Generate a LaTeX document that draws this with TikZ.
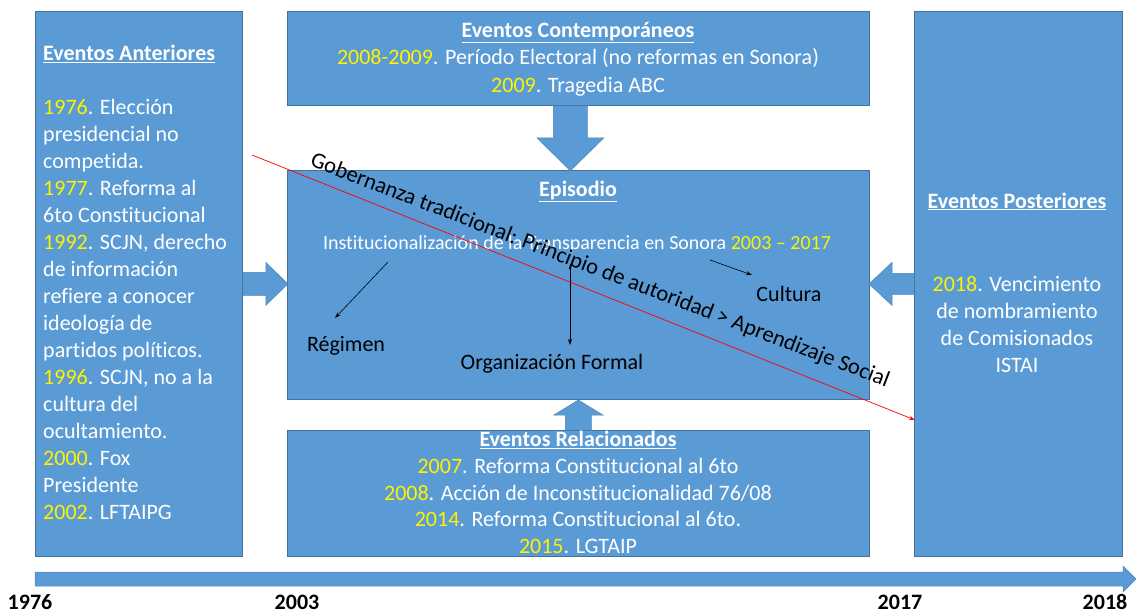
\documentclass[tikz,border=0pt]{standalone}
\usepackage{fontspec}
\setmainfont{Carlito}[Ligatures=NoCommon]
\usetikzlibrary{arrows.meta,calc}

\definecolor{cajaazul}{RGB}{91,155,213}
\definecolor{bordeazul}{RGB}{65,113,156}
\newcommand{\anio}[1]{\textcolor{yellow}{#1}}
\newcommand{\titulo}[1]{\underline{\textbf{#1}}}

\tikzset{
  caja/.style={draw=bordeazul, fill=cajaazul, line width=0.8pt, inner sep=0pt, anchor=north west},
  bloque/.style={fill=cajaazul, draw=cajaazul!85!black, line width=0.5pt},
  blanco/.style={text=white, font=\fontsize{22}{27}\selectfont, inner sep=0pt},
  negro/.style={text=black, font=\fontsize{22}{27}\selectfont, inner sep=0pt},
  anio/.style={text=black, font=\fontsize{22}{27}\selectfont\bfseries, inner sep=0pt, anchor=base},
  flechita/.style={-{Stealth[length=6pt,width=4pt]}, line width=0.6pt},
}

\begin{document}
\begin{tikzpicture}[x=1pt,y=-1pt]
	\useasboundingbox (0,0) rectangle (1136,614);

	% cajas
	\node[caja, minimum width=207pt, minimum height=545pt] (ant) at (35,11) {};
	\node[caja, minimum width=582pt, minimum height=94pt] (con) at (287,11) {};
	\node[caja, minimum width=582pt, minimum height=229pt] (epi) at (287,170) {};
	\node[caja, minimum width=582pt, minimum height=126pt] (rel) at (287,430) {};
	\node[caja, minimum width=208pt, minimum height=545pt] (post) at (914,11) {};

	% flechas de bloque
	\filldraw[bloque] ($(ant.east)+(0,-11.5)$) -- ++(23,0) -- ++(0,-10) -- ($(ant.east)+(45,0)$)
		-- ++(-22,21.5) -- ++(0,-10) -- ++(-23,0) -- cycle;
	\filldraw[bloque] ($(post.west)+(0,-10.5)$) -- ++(-22,0) -- ++(0,-11) -- ($(post.west)+(-45,0)$)
		-- ++(23,21.5) -- ++(0,-11) -- ++(22,0) -- cycle;
	\filldraw[bloque] ($(con.south)+(-25,0)$) -- ++(0,32) -- ++(-16.5,0) -- ($(con.south)+(-8,65)$)
		-- ++(33.5,-33) -- ++(-16.5,0) -- ++(0,-32) -- cycle;
	\filldraw[bloque] ($(rel.north)+(-13,0)$) -- ++(0,-15) -- ++(-11.5,0) -- ($(rel.north)+(0,-30)$)
		-- ++(24.5,15) -- ++(-11.5,0) -- ++(0,15) -- cycle;

	% linea de tiempo
	\coordinate (t0) at (35,579);
	\coordinate (t1) at (1136,579);
	\filldraw[bloque] ($(t0)+(0,-7)$) -- ($(t1)+(-13,-7)$) -- ++(0,-6) -- (t1)
		-- ++(-13,13) -- ++(0,-6) -- ($(t0)+(0,7)$) -- cycle;
	\foreach \x/\a in {30/1976,297/2003,900/2017,1105/2018}{
		\node[anio] (y\a) at (\x,609) {\a};
	}

	% textos de las cajas
	\node[blanco, anchor=north west, align=left] (tant) at (43,45) {\titulo{Eventos Anteriores}\\[27pt]
		\anio{1976}. Elección\\ presidencial no\\ competida.\\
		\anio{1977}. Reforma al\\ 6to Constitucional\\
		\anio{1992}. SCJN, derecho\\ de información\\ refiere a conocer\\ ideología de\\ partidos políticos.\\
		\anio{1996}. SCJN, no a la\\ cultura del\\ ocultamiento.\\
		\anio{2000}. Fox\\ Presidente\\
		\anio{2002}. LFTAIPG};
	\node[blanco, anchor=north, align=center, font=\fontsize{22}{27.5}\selectfont] (tcon) at (578,22)
		{\titulo{Eventos Contemporáneos}\\ \anio{2008-2009}. Período Electoral (no reformas en Sonora)\\ \anio{2009}. Tragedia ABC};
	\node[blanco, anchor=base] (tepi) at (578,196) {\titulo{Episodio}};
	\node[blanco, anchor=base, font=\fontsize{20}{24}\selectfont] (inst) at (577,249)
		{Institucionalización de la Transparencia en Sonora \anio{2003 – 2017}};
	\node[blanco, anchor=north, align=center, font=\fontsize{22}{26.7}\selectfont] (trel) at (578,431)
		{\titulo{Eventos Relacionados}\\ \anio{2007}. Reforma Constitucional al 6to\\
		\anio{2008}. Acción de Inconstitucionalidad 76/08\\ \anio{2014}. Reforma Constitucional al 6to.\\
		\anio{2015}. LGTAIP};
	\node[blanco, anchor=base] (tpost) at (1017,208) {\titulo{Eventos Posteriores}};
	\node[blanco, anchor=north, align=center] (cpost) at (1017,276)
		{\anio{2018}. Vencimiento\\ de nombramiento\\ de Comisionados\\ ISTAI};

	% episodio
	\node[negro, anchor=base] (reg) at (346,351) {Régimen};
	\node[negro, anchor=base] (org) at (552,369) {Organización Formal};
	\node[negro, anchor=base] (cul) at (789,301) {Cultura};
	\coordinate (r0) at (388,262);
	\coordinate (r1) at (335,318);
	\coordinate (o0) at (570,264);
	\coordinate (o1) at (570,345);
	\coordinate (c0) at (710,260);
	\coordinate (c1) at (752,275);
	\draw[flechita] (r0) -- (r1);
	\draw[flechita] (o0) -- (o1);
	\draw[flechita] (c0) -- (c1);

	% gobernanza
	\coordinate (g0) at (252,155);
	\coordinate (g1) at (915,420);
	\draw[red, line width=0.7pt, -{Stealth[length=6pt,width=4pt]}] (g0) -- (g1);
	\node[negro, rotate=-21, font=\fontsize{22.6}{27}\selectfont] (gob) at (600,271) {Gobernanza tradicional: Principio de autoridad > Aprendizaje Social};
\end{tikzpicture}
\end{document}
